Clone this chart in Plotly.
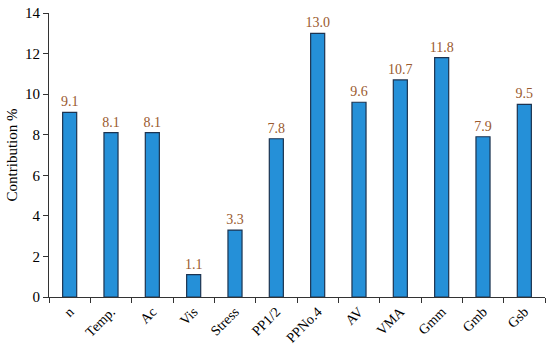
import plotly.graph_objects as go

categories = ["n", "Temp.", "Ac", "Vis", "Stress", "PP1/2", "PPNo.4", "AV", "VMA", "Gmm", "Gmb", "Gsb"]
contribution = [9.1, 8.1, 8.1, 1.1, 3.3, 7.8, 13.0, 9.6, 10.7, 11.8, 7.9, 9.5]
y_ticks = [0, 2, 4, 6, 8, 10, 12, 14]

font_family = "Liberation Serif, Times New Roman, serif"

fig = go.Figure(
    go.Bar(
        x=categories,
        y=contribution,
        width=0.34,
        marker=dict(color="#2590d8", line=dict(color="#1c3350", width=1.2)),
        texttemplate="%{y:.1f}",
        textposition="outside",
        constraintext="none",
        textfont=dict(family=font_family, size=14, color="#9a5a2e"),
        cliponaxis=False,
    )
)

fig.update_layout(
    width=550,
    height=349,
    margin=dict(l=49, r=5, t=13, b=52, autoexpand=False),
    plot_bgcolor="white",
    paper_bgcolor="white",
    showlegend=False,
    font=dict(family=font_family, size=14, color="black"),
)

fig.update_xaxes(
    type="category",
    range=[-0.5, 11.5],
    tickson="boundaries",
    ticks="outside",
    ticklen=5,
    tickcolor="#333333",
    tickangle=-45,
    showline=True,
    linecolor="#333333",
    linewidth=1.2,
    showgrid=False,
    automargin=False,
    tickfont=dict(family=font_family, size=14, color="black"),
)

fig.update_yaxes(
    range=[0, 14],
    tickvals=y_ticks,
    ticks="outside",
    ticklen=5,
    tickcolor="#333333",
    showline=True,
    linecolor="#333333",
    linewidth=1.2,
    showgrid=False,
    zeroline=False,
    automargin=False,
    tickfont=dict(family=font_family, size=15, color="black"),
    title=dict(text="Contribution %", font=dict(family=font_family, size=15, color="black"), standoff=3),
)

fig.write_html(
    "out.html",
    config={"displayModeBar": False},
    post_script="document.body.style.margin='0';document.body.style.overflow='hidden';",
)
